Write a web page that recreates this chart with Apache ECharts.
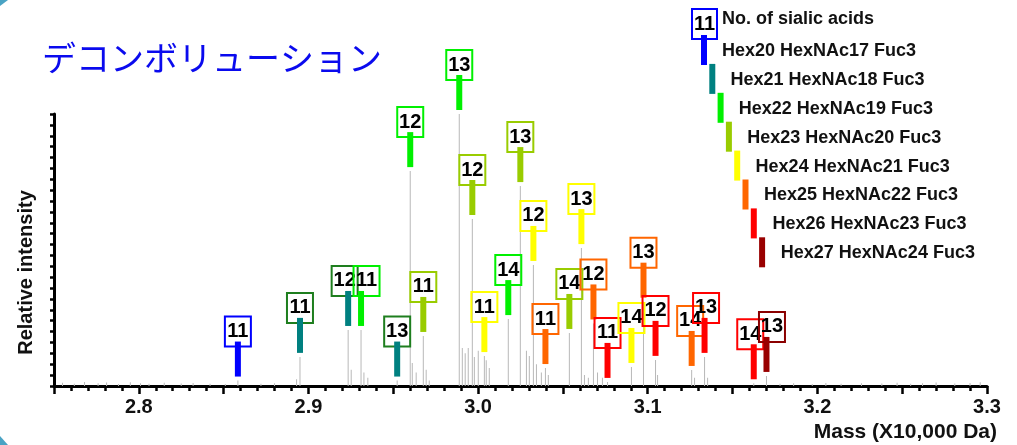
<!DOCTYPE html>
<html>
<head>
<meta charset="utf-8">
<script src="https://cdn.jsdelivr.net/npm/echarts@6/dist/echarts.min.js"></script>
<style>
  html, body { margin: 0; padding: 0; background: #fff; }
  #chart { width: 1017px; height: 445px; }
</style>
</head>
<body>
<div id="chart"></div>
<script>
// glycan compositions (legend) and their colours
const glycans = [
  'Hex20 HexNAc17 Fuc3', 'Hex21 HexNAc18 Fuc3', 'Hex22 HexNAc19 Fuc3', 'Hex23 HexNAc20 Fuc3',
  'Hex24 HexNAc21 Fuc3', 'Hex25 HexNAc22 Fuc3', 'Hex26 HexNAc23 Fuc3', 'Hex27 HexNAc24 Fuc3'
];
const glycanColors = ['#0000ff', '#008080', '#00f000', '#99cc00', '#ffff00', '#ff6600', '#ff0000', '#990000'];
const boxColors = ['#0000ff', '#1e7e1e', '#00f000', '#99cc00', '#ffff00', '#ff6600', '#ff0000', '#8b0000'];

// annotated peaks: mass (x10,000 Da), relative intensity, no. of sialic acids, glycan index
const annMass      = [2.8584, 2.8950, 2.9234, 2.9310, 2.9523, 2.9677, 2.9600, 2.9889, 2.9966, 3.0249,
                      3.0037, 3.0326, 3.0609, 3.0178, 3.0397, 3.0538, 3.0680, 3.0763, 3.0904, 3.0975,
                      3.1046, 3.1259, 3.1335, 3.1625, 3.1700];
const annIntensity = [2, 10.7, 20.6, 20.6, 2, 18.4, 79, 100, 61.4, 73.5,
                      11, 44.5, 50.7, 24.6, 6.6, 19.5, 23, 1.5, 7, 31,
                      9.6, 5.9, 10.7, 1, 3.7];
const annSialic    = [11, 11, 12, 11, 13, 11, 12, 13, 12, 13,
                      11, 12, 13, 14, 11, 14, 12, 11, 14, 13,
                      12, 14, 13, 14, 13];
const annGlycan    = [0, 1, 1, 2, 1, 3, 2, 2, 3, 3,
                      4, 4, 4, 2, 5, 3, 5, 6, 4, 5,
                      6, 5, 6, 6, 7];

// other (unlabelled) peaks and baseline noise of the deconvoluted spectrum
const otherMass = [2.755, 2.762, 2.768, 2.776, 2.781, 2.788, 2.795, 2.801, 2.806, 2.815, 2.825, 2.832, 2.842, 2.851,
                   2.872, 2.880, 2.893, 2.9252, 2.9327, 2.9350, 2.9612, 2.9635, 2.9694, 2.9712,
                   2.9907, 2.9924, 2.9942, 2.9978, 3.0001, 3.0048, 3.0066,
                   3.0285, 3.0302, 3.0344, 3.0373, 3.0414,
                   3.0627, 3.0650, 3.0704, 3.0733, 3.1058, 3.1276, 3.1353,
                   3.178, 3.186, 3.197, 3.205, 3.214, 3.226, 3.238, 3.247, 3.255, 3.262, 3.270, 3.281, 3.290, 3.296];
const otherIntensity = [1.2, 0.8, 1.5, 1, 1.3, 0.7, 1.4, 1, 0.8, 1.2, 0.9, 1.1, 0.8, 0.7,
                        0.8, 1, 2.5, 6, 5, 3, 8.5, 5, 6, 2,
                        14, 12, 14, 10.7, 13, 9.5, 6.6,
                        13, 11, 8, 5, 4,
                        4, 3, 5, 3, 4, 3, 3,
                        0.8, 1, 0.7, 1.1, 0.8, 1, 0.9, 1.2, 0.8, 1, 1.3, 0.9, 1.1, 1.4];

const FONT = '"Liberation Sans", Arial, sans-serif';

// sideways nudge (px) of label boxes that would otherwise overlap, keyed by annotation index
const boxNudge = { 2: -3.5, 3: 5.5, 21: -1.5, 22: 1.5, 23: -3.5, 24: 5.5 };

const spectrum = annMass.map((m, i) => [m, annIntensity[i]])
  .concat(otherMass.map((m, i) => [m, otherIntensity[i]]));
const annotations = annMass.map((m, i) => [m, annIntensity[i], annSialic[i], annGlycan[i]]);

// custom legend: sample box + staircase of coloured bars
const legendGraphics = [
  { type: 'rect', shape: { x: 692, y: 9, width: 25, height: 30 }, style: { fill: 'none', stroke: boxColors[0], lineWidth: 2 } },
  { type: 'text', style: { text: '11', x: 704.5, y: 24, align: 'center', verticalAlign: 'middle', font: 'bold 20px ' + FONT, fill: '#000' } },
  { type: 'text', style: { text: 'No. of sialic acids', x: 722, y: 19, verticalAlign: 'middle', font: 'bold 18px ' + FONT, fill: '#111' } }
];
glycans.forEach((name, i) => {
  legendGraphics.push({ type: 'rect', shape: { x: 701 + i * 8.3, y: 35 + i * 28.9, width: 6, height: 30 }, style: { fill: glycanColors[i] } });
  legendGraphics.push({ type: 'text', style: { text: name, x: 722 + i * 8.4, y: 51 + i * 28.9, verticalAlign: 'middle', font: 'bold 18px ' + FONT, fill: '#111' } });
});
// slide corner decorations
legendGraphics.push({ type: 'polygon', shape: { points: [[0, 0], [8, 0], [0, 6]] }, style: { fill: '#4aa3c4' } });
legendGraphics.push({ type: 'polygon', shape: { points: [[0, 436], [8, 445], [0, 445]] }, style: { fill: '#4aa3c4' } });

const chart = echarts.init(document.getElementById('chart'), null, { renderer: 'canvas' });

const option = {
  backgroundColor: '#fff',
  animation: false,
  title: {
    text: 'デコンボリューション',
    left: 37,
    top: 36,
    textStyle: { fontSize: 34, fontWeight: 'normal', color: '#0a0aee', fontFamily: '"Noto Sans CJK JP"' }
  },
  grid: { left: 54, right: 30, top: 114, bottom: 59, containLabel: false },
  xAxis: {
    type: 'value',
    min: 2.75,
    max: 3.3,
    interval: 0.05,
    name: 'Mass (X10,000 Da)',
    nameLocation: 'end',
    nameGap: 10,
    nameTextStyle: { align: 'right', verticalAlign: 'top', padding: [36, 0, 0, 0], fontSize: 21, fontWeight: 'bold', color: '#111', fontFamily: FONT },
    axisLine: { onZero: false, lineStyle: { color: '#000', width: 3 } },
    axisTick: { show: true, length: 8, lineStyle: { color: '#000', width: 2.5 } },
    minorTick: { show: true, splitNumber: 5, length: 5, lineStyle: { color: '#000', width: 2.5 } },
    axisLabel: {
      margin: 11,
      fontSize: 20,
      fontWeight: 'bold',
      color: '#111',
      fontFamily: FONT,
      formatter: v => Math.abs(v * 10 - Math.round(v * 10)) < 1e-6 ? v.toFixed(1) : ''
    },
    splitLine: { show: false },
    minorSplitLine: { show: false }
  },
  yAxis: {
    type: 'value',
    min: 0,
    max: 100,
    interval: 4,
    name: 'Relative intensity',
    nameLocation: 'middle',
    nameGap: 18,
    nameTextStyle: { fontSize: 20, fontWeight: 'bold', color: '#111', fontFamily: FONT, padding: [0, 45, 0, 0] },
    axisLine: { show: true, lineStyle: { color: '#000', width: 3 } },
    axisTick: { show: true, inside: false, length: 4, lineStyle: { color: '#000', width: 2.5 } },
    axisLabel: { show: false },
    splitLine: { show: false }
  },
  graphic: legendGraphics,
  series: [
    {
      name: 'spectrum',
      type: 'bar',
      barWidth: 1,
      itemStyle: { color: '#b8b8b8' },
      data: spectrum,
      silent: true
    },
    {
      name: 'annotations',
      type: 'custom',
      data: annotations,
      encode: { x: 0, y: 1 },
      z: 5,
      renderItem: function (params, api) {
        const pt = api.coord([api.value(0), api.value(1)]);
        const g = api.value(3);
        const cx = pt[0] + (boxNudge[params.dataIndex] || 0);
        const barBottom = pt[1] - 4;
        const barTop = barBottom - 35;
        const boxBottom = barTop + 5;
        return {
          type: 'group',
          children: [
            { type: 'rect', shape: { x: cx - 13, y: boxBottom - 30, width: 26, height: 30 },
              style: { fill: 'none', stroke: boxColors[g], lineWidth: 2 } },
            { type: 'text', style: { text: String(api.value(2)), x: cx, y: boxBottom - 15, align: 'center', verticalAlign: 'middle',
              font: 'bold 20px ' + FONT, fill: '#000' } },
            { type: 'rect', shape: { x: pt[0] - 3, y: barTop, width: 6, height: 35 },
              style: { fill: glycanColors[g] } }
          ]
        };
      }
    }
  ]
};

chart.setOption(option);
</script>
</body>
</html>
